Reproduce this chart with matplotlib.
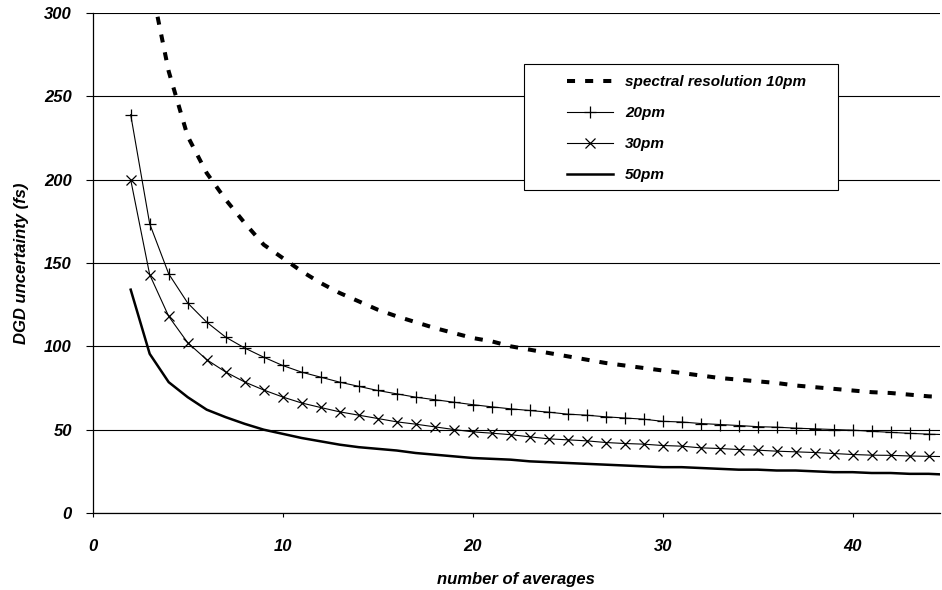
import matplotlib
matplotlib.use("Agg")
import matplotlib.pyplot as plt
from matplotlib.patches import Rectangle

# number of averages
n_avg = list(range(2, 46))

# DGD uncertainty (fs) for each spectral resolution
res_10pm = [470, 321, 265, 226, 204, 188, 174, 161, 153, 145, 138, 132, 127, 122,
            118, 114.5, 111, 108, 105, 103, 100, 98, 96, 94, 92, 90, 88.5, 87,
            85.5, 84, 82.5, 81, 80, 79, 78, 76.5, 75.5, 74.5, 73.5, 72.5, 72, 71,
            70, 69.5]
res_20pm = [239, 173.5, 143.5, 126, 114.5, 105.5, 99, 93.5, 88.5, 84.5, 81.5, 78.5,
            76, 73.5, 71.5, 69.5, 68, 66.5, 65, 63.7, 62.5, 61.5, 60.5, 59.3, 58.7,
            57.7, 57, 56.3, 55, 54.6, 53.7, 53.1, 52.5, 51.8, 51.5, 50.9, 50.5,
            50.1, 49.7, 49, 48.4, 47.8, 47.3, 47]
res_30pm = [200, 143, 118, 102.2, 92, 84.6, 78.6, 73.8, 69.6, 66, 63.3, 60.7, 58.7,
            56.7, 54.7, 53.3, 51.7, 50.1, 48.7, 47.9, 47, 45.7, 44.5, 43.9, 43.3,
            42.3, 41.7, 41.3, 40.5, 40.1, 39.1, 38.7, 38.1, 37.7, 37.1, 36.7, 36.3,
            35.7, 35.1, 34.7, 34.6, 34.2, 34, 33.8]
res_50pm = [134, 95.5, 78.5, 69.5, 62, 57.5, 53.5, 50, 47.5, 45, 43, 41, 39.5, 38.5,
            37.5, 36, 35, 34, 33, 32.5, 32, 31, 30.5, 30, 29.5, 29, 28.5, 28, 27.5,
            27.5, 27, 26.5, 26, 26, 25.5, 25.5, 25, 24.5, 24.5, 24, 24, 23.5, 23.5, 23]

labels = ["spectral resolution 10pm", "20pm", "30pm", "50pm"]
x_ticks = [0, 10, 20, 30, 40]
y_ticks = [0, 50, 100, 150, 200, 250, 300]

font = ["Liberation Sans Narrow", "Liberation Sans", "DejaVu Sans"]
plt.rcParams["font.family"] = font
plt.rcParams["font.weight"] = "bold"
plt.rcParams["font.style"] = "italic"
plt.rcParams["axes.labelweight"] = "bold"

fig = plt.figure(figsize=(9.42, 5.9), dpi=100)
ax = fig.add_axes([0.0984, 0.1305, 0.8995, 0.8475])

ax.plot(n_avg, res_10pm, color="black", lw=2.9, linestyle=(0, (2.0, 2.5)),
        label=labels[0])
ax.plot(n_avg, res_20pm, color="black", lw=0.8, marker="+", ms=9, mew=0.9,
        label=labels[1])
ax.plot(n_avg, res_30pm, color="black", lw=0.8, marker="x", ms=7.5, mew=0.9,
        label=labels[2])
ax.plot(n_avg, res_50pm, color="black", lw=1.8, label=labels[3])

ax.set_xlim(0, 44.6)
ax.set_ylim(0, 300)
ax.set_xticks(x_ticks)
ax.set_yticks(y_ticks)
ax.yaxis.grid(True, color="black", lw=0.8)
ax.set_axisbelow(True)

for s in ["top", "right"]:
    ax.spines[s].set_visible(False)
ax.spines["left"].set_linewidth(0.9)
ax.spines["bottom"].set_linewidth(0.9)

ax.tick_params(axis="y", direction="out", length=5, width=0.8, pad=10, labelsize=12)
ax.tick_params(axis="x", direction="out", length=3, width=0.8, pad=16, labelsize=12)

ax.set_xlabel("number of averages", fontsize=12, fontweight="bold", labelpad=13)
ax.set_ylabel("DGD uncertainty (fs)", fontsize=12, fontweight="bold", labelpad=11)

# legend box
ax.add_patch(Rectangle((0.509, 0.646), 0.371, 0.252, transform=ax.transAxes,
                       facecolor="white", edgecolor="black", lw=0.8, zorder=4))
leg = ax.legend(loc="upper left", bbox_to_anchor=(0.56, 0.876), frameon=False,
                fontsize=11, handlelength=3.0, handletextpad=0.8,
                labelspacing=1.12, borderaxespad=0, borderpad=0)
leg.set_zorder(5)

fig.savefig("out.png", dpi=100)
